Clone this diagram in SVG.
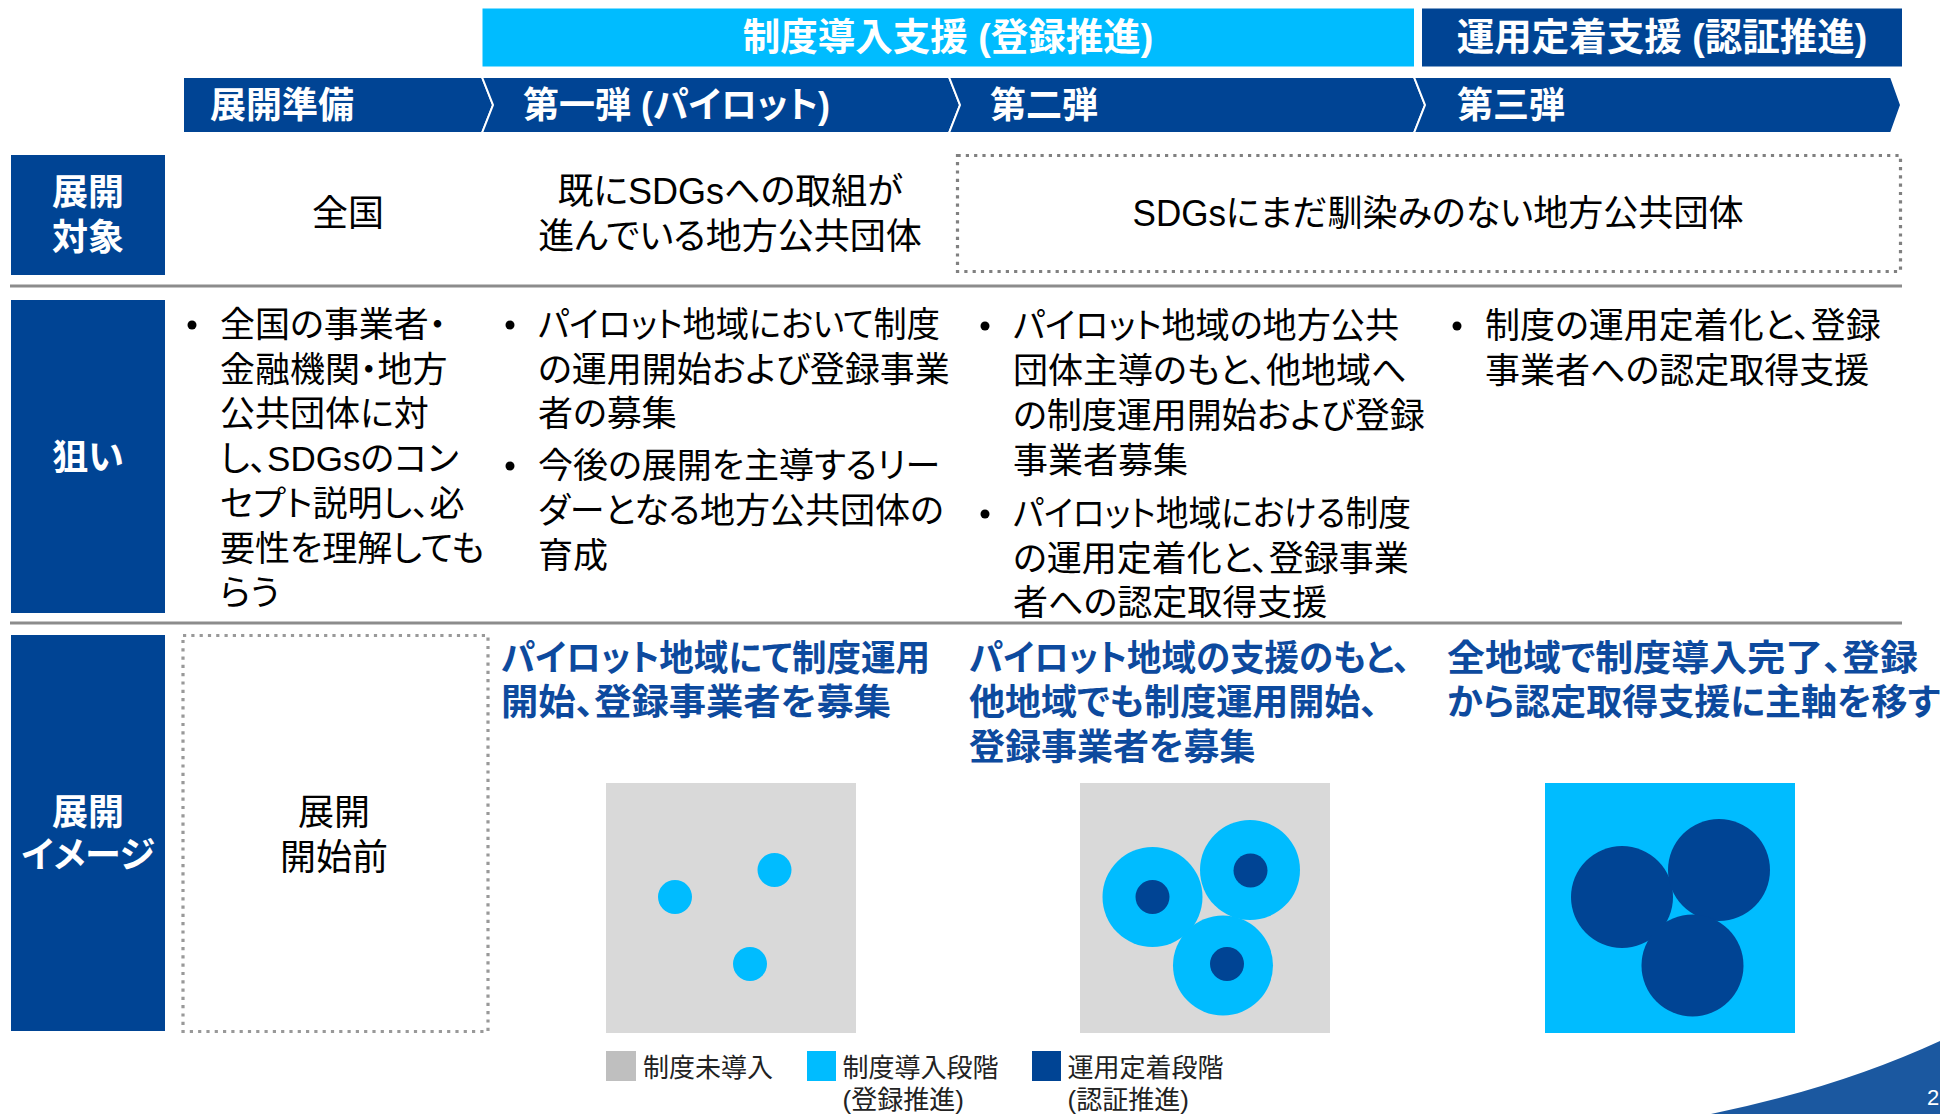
<svg xmlns="http://www.w3.org/2000/svg" width="1940" height="1114" viewBox="0 0 1940 1114">
<style>
.t{font-family:"Liberation Sans","Noto Sans CJK JP",sans-serif;font-feature-settings:"palt";dominant-baseline:central}
.wb{fill:#fff;font-weight:bold;font-size:36px}
.bn{font-size:37.5px}
.bk{fill:#000;font-size:36px}
.bd{fill:#000;font-size:35px}
.hd{fill:#0D4A9E;font-weight:bold;font-size:36px}
.lg{fill:#222;font-size:26px}
.mid{text-anchor:middle}
.navy{fill:#004494}
.sky{fill:#00BCFF}
.chev{fill:#004494;stroke:#fff;stroke-width:2;stroke-linejoin:miter}
.sep{stroke:#8c8c8c;stroke-width:3}
.dots{fill:none;stroke-width:3.2;stroke-dasharray:3.2 5.1}
</style>
<rect width="1940" height="1114" fill="#fff"/>

<g id="banner-donyu">
<rect x="482.5" y="8.5" width="931.5" height="58" class="sky"/>
<text x="948" y="37" class="t wb bn mid">制度導入支援 (登録推進)</text>
</g>
<g id="banner-teichaku">
<rect x="1422" y="8.5" width="480" height="58" class="navy"/>
<text x="1662" y="37" class="t wb bn mid">運用定着支援 (認証推進)</text>
</g>

<g id="phase-junbi">
<polygon class="chev" points="183,77 482,77 493,105 482,133 183,133"/>
<text x="210" y="105" class="t wb">展開準備</text>
</g>
<g id="phase-1">
<polygon class="chev" points="482,77 949,77 960,105 949,133 482,133 493,105"/>
<text x="523" y="105" class="t wb">第一弾 (パイロット)</text>
</g>
<g id="phase-2">
<polygon class="chev" points="949,77 1414,77 1425,105 1414,133 949,133 960,105"/>
<text x="990" y="105" class="t wb">第二弾</text>
</g>
<g id="phase-3">
<polygon class="chev" points="1414,77 1891,77 1901,105 1891,133 1414,133 1425,105"/>
<text x="1457" y="105" class="t wb">第三弾</text>
</g>

<g id="separators">
<line x1="10" y1="286" x2="1902" y2="286" class="sep"/>
<line x1="10" y1="623" x2="1902" y2="623" class="sep"/>
</g>

<g id="label-taisho">
<rect x="11" y="155" width="154" height="120" class="navy"/>
<text x="88" y="192" class="t wb mid">展開</text>
<text x="88" y="237" class="t wb mid">対象</text>
</g>
<g id="taisho-junbi">
<text x="348" y="213" class="t bk mid">全国</text>
</g>
<g id="taisho-1">
<text x="730" y="191" class="t bk mid">既にSDGsへの取組が</text>
<text x="730" y="236" class="t bk mid">進んでいる地方公共団体</text>
</g>
<g id="taisho-23">
<rect x="957.5" y="155.5" width="943" height="116" class="dots" stroke="#808080"/>
<text x="1438" y="213" class="t bk mid" textLength="611" lengthAdjust="spacingAndGlyphs">SDGsにまだ馴染みのない地方公共団体</text>
</g>

<g id="label-nerai">
<rect x="11" y="300" width="154" height="313" class="navy"/>
<text x="88" y="457" class="t wb mid">狙い</text>
</g>
<g id="nerai-junbi">
<circle cx="192" cy="325" r="4.5"/>
<text class="t bd" x="220"><tspan x="220" y="324">全国の事業者・</tspan><tspan x="220" y="368.7">金融機関・地方</tspan><tspan x="220" y="413.4">公共団体に対</tspan><tspan x="220" y="458">し、SDGsのコン</tspan><tspan x="220" y="502.8">セプト説明し、必</tspan><tspan x="220" y="547.5">要性を理解しても</tspan><tspan x="220" y="592">らう</tspan></text>
</g>
<g id="nerai-1">
<circle cx="510" cy="325" r="4.5"/>
<text class="t bd" x="538" y="324" textLength="402" lengthAdjust="spacingAndGlyphs">パイロット地域において制度</text>
<text class="t bd"><tspan x="538" y="369">の運用開始および登録事業</tspan><tspan x="538" y="413">者の募集</tspan></text>
<circle cx="510" cy="466" r="4.5"/>
<text class="t bd"><tspan x="538" y="465">今後の展開を主導するリー</tspan><tspan x="538" y="510">ダーとなる地方公共団体の</tspan><tspan x="538" y="555">育成</tspan></text>
</g>
<g id="nerai-2">
<circle cx="985" cy="326" r="4.5"/>
<text class="t bd" x="1013" y="325" textLength="386" lengthAdjust="spacingAndGlyphs">パイロット地域の地方公共</text>
<text class="t bd"><tspan x="1013" y="370">団体主導のもと、他地域へ</tspan><tspan x="1013" y="415">の制度運用開始および登録</tspan><tspan x="1013" y="460">事業者募集</tspan></text>
<circle cx="985" cy="514" r="4.5"/>
<text class="t bd" x="1013" y="513" textLength="398" lengthAdjust="spacingAndGlyphs">パイロット地域における制度</text>
<text class="t bd"><tspan x="1013" y="558">の運用定着化と、登録事業</tspan><tspan x="1013" y="602">者への認定取得支援</tspan></text>
</g>
<g id="nerai-3">
<circle cx="1457" cy="326" r="4.5"/>
<text class="t bd"><tspan x="1485" y="325">制度の運用定着化と、登録</tspan><tspan x="1485" y="370">事業者への認定取得支援</tspan></text>
</g>

<g id="label-image">
<rect x="11" y="635" width="154" height="396" class="navy"/>
<text x="88" y="812" class="t wb mid">展開</text>
<text x="88" y="855" class="t wb mid">イメージ</text>
</g>
<g id="image-junbi">
<rect x="183" y="635.5" width="305" height="396" class="dots" stroke="#999"/>
<text x="334" y="812" class="t bk mid">展開</text>
<text x="334" y="857" class="t bk mid">開始前</text>
</g>
<g id="image-1">
<text class="t hd" x="501" y="658" textLength="429" lengthAdjust="spacingAndGlyphs">パイロット地域にて制度運用</text>
<text class="t hd" x="501" y="702" textLength="390" lengthAdjust="spacingAndGlyphs">開始、登録事業者を募集</text>
<rect x="606" y="783" width="250" height="250" fill="#D9D9D9"/>
<circle cx="675" cy="897" r="17" class="sky"/>
<circle cx="774.5" cy="870" r="17" class="sky"/>
<circle cx="750" cy="964" r="17" class="sky"/>
</g>
<g id="image-2">
<text class="t hd" x="969" y="658" textLength="441" lengthAdjust="spacingAndGlyphs">パイロット地域の支援のもと、</text>
<text class="t hd"><tspan x="969" y="702">他地域でも制度運用開始、</tspan><tspan x="969" y="747">登録事業者を募集</tspan></text>
<rect x="1080" y="783" width="250" height="250" fill="#D9D9D9"/>
<circle cx="1152.5" cy="897" r="50" class="sky"/>
<circle cx="1250" cy="870" r="50" class="sky"/>
<circle cx="1223" cy="965.5" r="50" class="sky"/>
<circle cx="1152.5" cy="897" r="17" class="navy"/>
<circle cx="1250.5" cy="870.5" r="17" class="navy"/>
<circle cx="1227" cy="964" r="17" class="navy"/>
</g>
<g id="image-3">
<text class="t hd" x="1447" y="658" textLength="471" lengthAdjust="spacingAndGlyphs">全地域で制度導入完了、登録</text>
<text class="t hd" x="1447" y="702">から認定取得支援に主軸を移す</text>
<rect x="1545" y="783" width="250" height="250" class="sky"/>
<circle cx="1622" cy="897" r="51" class="navy"/>
<circle cx="1719" cy="870" r="51" class="navy"/>
<circle cx="1692.5" cy="965.5" r="51" class="navy"/>
</g>

<g id="legend">
<rect x="606" y="1051" width="30" height="30" fill="#BFBFBF"/>
<text x="643" y="1068" class="t lg">制度未導入</text>
<rect x="807" y="1051" width="29" height="30" class="sky"/>
<text x="842.5" y="1068" class="t lg">制度導入段階</text>
<text x="842.5" y="1100" class="t lg">(登録推進)</text>
<rect x="1032" y="1051" width="29" height="30" class="navy"/>
<text x="1067.5" y="1068" class="t lg">運用定着段階</text>
<text x="1067.5" y="1100" class="t lg">(認証推進)</text>
</g>

<g id="page-corner">
<path d="M1711,1114 Q1838,1088 1940,1041 L1940,1114 Z" fill="#1B58A0"/>
<text x="1927" y="1097" class="t" style="fill:#fff;font-size:22px">2</text>
</g>
</svg>
